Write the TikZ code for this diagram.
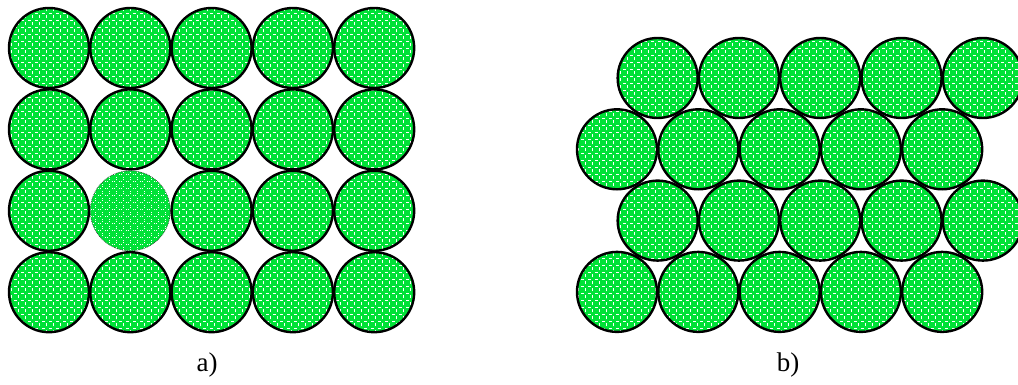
\documentclass[tikz,border=0pt]{standalone}
\usepackage{fontspec}
\setmainfont{Liberation Serif}
\usetikzlibrary{patterns}

\definecolor{vert}{RGB}{0,225,55}

% motif des billes
\pgfdeclarepatternformonly{tissu}{\pgfqpoint{-1pt}{-1pt}}{\pgfqpoint{8pt}{8pt}}{\pgfqpoint{7pt}{7pt}}{
  \pgfsetlinewidth{0.6pt}
  \pgfpathmoveto{\pgfqpoint{0pt}{1pt}}\pgfpathlineto{\pgfqpoint{3pt}{1pt}}
  \pgfpathmoveto{\pgfqpoint{4.6pt}{2.6pt}}\pgfpathlineto{\pgfqpoint{4.6pt}{5.6pt}}
  \pgfusepath{stroke}
}

\tikzset{
  bille/.style={circle, draw, line width=2.4pt, minimum size=80pt, inner sep=0pt,
    preaction={fill=vert}, pattern=tissu, pattern color=white},
  lacune/.style={draw=black!80, line width=0.7pt, densely dotted},
  legende/.style={font=\fontsize{27}{32}\selectfont}
}

\begin{document}
\begin{tikzpicture}[x=1pt,y=-1pt]
        \useasboundingbox (0,0) rectangle (1018,385);

        % a) Empilement carre
        \foreach \i in {0,...,4}
          \foreach \j in {0,...,3}{
            \ifnum\i\j=12
              \node[bille, lacune] (a-\i-\j) at ({49+81.3*\i},{48+81.4*\j}) {};
            \else
              \node[bille] (a-\i-\j) at ({49+81.3*\i},{48+81.4*\j}) {};
            \fi
          }

        % b) Empilement compact
        \foreach \j in {0,...,3}
          \foreach \i in {0,...,4}
            \node[bille] (b-\i-\j) at ({617+40.65*mod(\j+1,2)+81.3*\i},{78+71.3*\j}) {};

        % Legendes
        \node[legende] (leg-a) at (207,365) {a)};
        \node[legende] (leg-b) at (788,365) {b)};
    \end{tikzpicture}
\end{document}
